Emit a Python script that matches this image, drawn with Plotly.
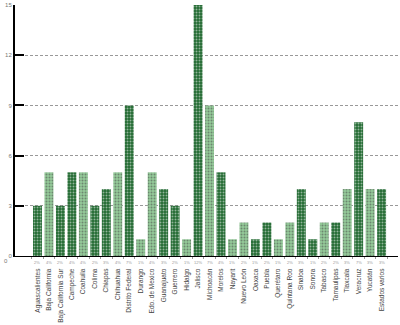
import plotly.graph_objects as go

states = ["Aguascalientes", "Baja California", "Baja California Sur", "Campeche", "Coahuila",
          "Colima", "Chiapas", "Chihuahua", "Distrito Federal", "Durango", "Edo. de Mexico",
          "Guanajuato", "Guerrero", "Hidalgo", "Jalisco", "Michoacán", "Morelos", "Nayarit",
          "Nuevo León", "Oaxaca", "Puebla", "Querétaro", "Quintana Roo", "Sinaloa", "Sonora",
          "Tabasco", "Tamaulipas", "Tlaxcala", "Veracruz", "Yucatán", "Estados varios"]
values = [3, 5, 3, 5, 5, 3, 4, 5, 9, 1, 5, 4, 3, 1, 15, 9, 5, 1, 2, 1, 2, 1, 2, 4, 1, 2, 2, 4, 8, 4, 4]
shade = ["d", "l", "d", "d", "l", "d", "d", "l", "d", "l", "l", "d", "d", "l", "d", "l",
         "d", "l", "l", "d", "d", "l", "l", "d", "d", "l", "d", "l", "d", "l", "d"]
y_ticks = [0, 3, 6, 9, 12, 15]

total = sum(values)
pct = [f"{round(v * 100 / total)}%" for v in values]

bg = {"d": "#226a32", "l": "#95cb9a"}
fg = {"d": "#6fb27a", "l": "#e2f3e2"}

fig = go.Figure(go.Bar(
    x=states, y=values,
    marker=dict(
        color=[bg[s] for s in shade],
        line=dict(width=0),
        pattern=dict(shape=".", fgcolor=[fg[s] for s in shade], size=3, solidity=0.35,
                     fillmode="overlay"),
    ),
    width=0.78,
))

for s, p in zip(states, pct):
    fig.add_annotation(x=s, y=-0.024, xref="x", yref="paper", text=p, showarrow=False,
                       font=dict(size=4, color="#999999", family="Liberation Sans"),
                       xanchor="center", yanchor="middle")

fig.add_annotation(x=0, y=y_ticks[0], xref="paper", yref="y", text=str(y_ticks[0]),
                   showarrow=False, xanchor="right", yanchor="top", xshift=-5,
                   font=dict(size=6, color="#777777"))

fig.update_layout(
    width=400, height=325,
    margin=dict(l=15, r=2, t=3, b=68),
    plot_bgcolor="white", paper_bgcolor="white",
    showlegend=False,
    font=dict(family="Liberation Sans Narrow, Liberation Sans", size=6, color="#555555"),
)
fig.update_xaxes(
    range=[-1.96, 31.43], showline=True, linecolor="black", linewidth=1,
    ticks="outside", ticklen=2, tickcolor="#999999", tickson="boundaries",
    tickangle=-90, tickfont=dict(size=6.5, color="#444444"), ticklabelstandoff=9,
    showgrid=False,
)
fig.update_yaxes(
    range=[0, 15], tickvals=y_ticks, showline=True, linecolor="black", linewidth=2,
    ticks="inside", ticklen=9, tickwidth=2, tickcolor="black",
    tickfont=dict(size=6, color="#777777"), ticklabeloverflow="allow",
    showgrid=True, gridcolor="#999999", gridwidth=1, griddash="3px,2px",
    zeroline=False,
)
fig.write_html("out.html")
